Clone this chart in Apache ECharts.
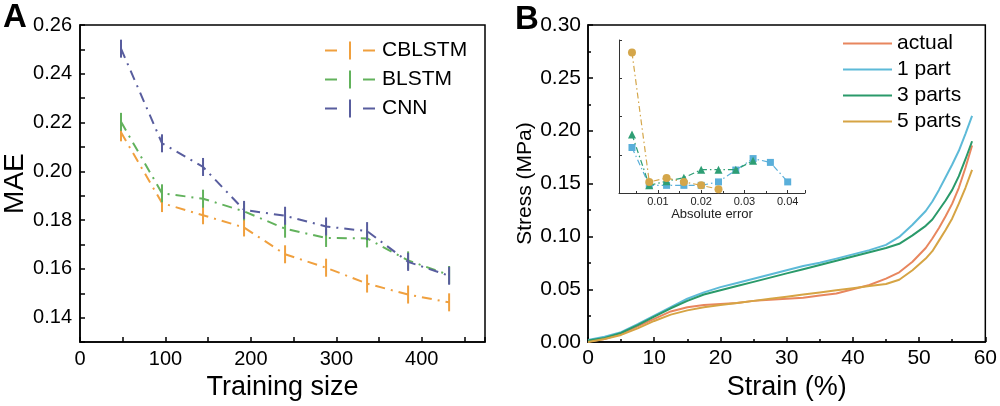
<!DOCTYPE html>
<html>
<head>
<meta charset="utf-8">
<script src="https://cdn.jsdelivr.net/npm/echarts@6/dist/echarts.min.js"></script>
<style>
html,body{margin:0;padding:0;background:#fff;}
#chart{width:1000px;height:406px;}
</style>
</head>
<body>
<div id="chart"></div>
<script>
// ---------- Panel A data ----------
const trainingSize = [48, 96, 144, 192, 240, 288, 336, 384, 432];
const maeCBLSTM = [0.216, 0.187, 0.182, 0.177, 0.166, 0.1605, 0.154, 0.1495, 0.1463];
const maeBLSTM  = [0.2203, 0.191, 0.1888, 0.1836, 0.1765, 0.1727, 0.1725, 0.1635, 0.1575];
const maeCNN    = [0.2503, 0.2115, 0.2018, 0.1842, 0.1818, 0.1774, 0.1755, 0.1629, 0.1572];
const namesA = ['CBLSTM', 'BLSTM', 'CNN'];

// ---------- Panel B data ----------
const strain = [0, 2.5, 5, 7.5, 10, 12.5, 15, 17.5, 20, 22.5, 25, 27.5, 30, 32.5, 35, 37.5, 40, 42.5, 45, 47, 49, 51, 52, 53, 54, 55, 56, 57, 58];
const stressActual = [0.0006, 0.003, 0.0078, 0.015, 0.022, 0.029, 0.033, 0.035, 0.036, 0.037, 0.039, 0.040, 0.041, 0.042, 0.044, 0.046, 0.050, 0.054, 0.060, 0.066, 0.076, 0.089, 0.098, 0.108, 0.119, 0.131, 0.146, 0.165, 0.186];
const stress1Part  = [0.002, 0.005, 0.0093, 0.017, 0.025, 0.033, 0.041, 0.047, 0.052, 0.056, 0.060, 0.064, 0.068, 0.072, 0.075, 0.079, 0.083, 0.087, 0.092, 0.0995, 0.111, 0.124, 0.133, 0.144, 0.156, 0.168, 0.181, 0.197, 0.214];
const stress3Parts = [0.0016, 0.004, 0.0087, 0.016, 0.024, 0.032, 0.039, 0.045, 0.049, 0.053, 0.057, 0.061, 0.065, 0.069, 0.073, 0.077, 0.081, 0.085, 0.089, 0.093, 0.101, 0.110, 0.116, 0.125, 0.134, 0.144, 0.157, 0.173, 0.190];
const stress5Parts = [0.0, 0.003, 0.0068, 0.013, 0.020, 0.026, 0.030, 0.033, 0.035, 0.037, 0.039, 0.041, 0.043, 0.045, 0.047, 0.049, 0.051, 0.053, 0.055, 0.059, 0.068, 0.079, 0.086, 0.096, 0.106, 0.117, 0.131, 0.146, 0.163];
const namesB = ['actual', '1 part', '3 parts', '5 parts'];

// ---------- Inset data ----------
const errSquares   = [0.004, 0.008, 0.012, 0.016, 0.020, 0.024, 0.028, 0.032, 0.036, 0.040];
const valSquares   = [1.19, 0.20, 0.20, 0.20, 0.20, 0.29, 0.60, 0.90, 0.80, 0.29];
const errTriangles = [0.004, 0.008, 0.012, 0.016, 0.020, 0.024, 0.028, 0.032];
const valTriangles = [1.53, 0.20, 0.31, 0.40, 0.61, 0.61, 0.61, 0.84];
const errCircles   = [0.004, 0.008, 0.012, 0.016, 0.020, 0.024];
const valCircles   = [3.675, 0.29, 0.39, 0.29, 0.20, 0.10];

const FONT = '"Liberation Sans", Arial, sans-serif';
const colA = ['#F0A03E', '#62B25C', '#585D9E'];
const colB = ['#E8865E', '#5DBAD8', '#2A9A6A', '#D6A444'];
const colInset = ['#5AAFDA', '#2E9E74', '#D4A64A'];

const zip = (xs, ys) => xs.map((x, i) => [x, ys[i]]);

const chart = echarts.init(document.getElementById('chart'), null, {renderer: 'canvas'});

const seriesA = [maeCBLSTM, maeBLSTM, maeCNN].map((arr, i) => ({
  name: namesA[i], type: 'line', xAxisIndex: 0, yAxisIndex: 0,
  data: zip(trainingSize, arr),
  symbol: 'rect', symbolSize: [2, 18], showSymbol: true,
  itemStyle: {color: colA[i]},
  lineStyle: {color: colA[i], width: 2, type: [10, 6, 2, 6]},
  emphasis: {disabled: true}, z: 2 + i
}));

const seriesB = [stressActual, stress1Part, stress3Parts, stress5Parts].map((arr, i) => ({
  name: namesB[i], type: 'line', xAxisIndex: 1, yAxisIndex: 1,
  data: zip(strain, arr), showSymbol: false, symbol: 'none',
  itemStyle: {color: colB[i]},
  lineStyle: {color: colB[i], width: 2},
  emphasis: {disabled: true}
}));

const insetDefs = [
  [errSquares, valSquares, 'rect', 7],
  [errTriangles, valTriangles, 'triangle', 8],
  [errCircles, valCircles, 'circle', 8]
];
const seriesInset = insetDefs.map((d, i) => ({
  type: 'line', xAxisIndex: 2, yAxisIndex: 2,
  data: zip(d[0], d[1]), symbol: d[2], symbolSize: d[3], showSymbol: true,
  itemStyle: {color: colInset[i]},
  lineStyle: {color: colInset[i], width: 1.2, type: [6, 3, 1.5, 3]},
  emphasis: {disabled: true}, z: 5 + i
}));

const tickStyle = {color: '#000', width: 1.5};

chart.setOption({
  animation: false,
  backgroundColor: '#fff',
  textStyle: {fontFamily: FONT},
  grid: [
    {left: 80, top: 25, width: 405, height: 326, show: true, borderColor: '#000', borderWidth: 1.5, backgroundColor: 'transparent'},
    {left: 588, top: 25, width: 400, height: 322, show: true, borderColor: '#000', borderWidth: 1.5, backgroundColor: 'transparent'},
    {left: 619, top: 40, width: 186, height: 153, show: false}
  ],
  xAxis: [
    {type: 'value', gridIndex: 0, min: 0, max: 474, interval: 50,
     name: 'Training size', nameLocation: 'middle', nameGap: 22,
     nameTextStyle: {fontSize: 27, color: '#000', fontFamily: FONT},
     axisLine: {lineStyle: {color: '#000', width: 1.5}},
     axisTick: {inside: true, length: 5, lineStyle: tickStyle},
     axisLabel: {fontSize: 20, color: '#000', margin: 7, fontFamily: FONT,
       formatter: v => (Math.round(v) % 100 === 0 && v < 470) ? String(Math.round(v)) : ''},
     splitLine: {show: false}},
    {type: 'value', gridIndex: 1, min: 0, max: 60, interval: 10,
     name: 'Strain (%)', nameLocation: 'middle', nameGap: 27,
     nameTextStyle: {fontSize: 27, color: '#000', fontFamily: FONT},
     axisLine: {lineStyle: {color: '#000', width: 1.5}},
     axisTick: {inside: true, length: 5, lineStyle: tickStyle},
     minorTick: {show: true, splitNumber: 2, length: 3, lineStyle: tickStyle},
     axisLabel: {fontSize: 21, color: '#000', margin: 6, fontFamily: FONT},
     splitLine: {show: false}},
    {type: 'value', gridIndex: 2, min: 0.001, max: 0.044, splitNumber: 4,
     name: 'Absolute error', nameLocation: 'middle', nameGap: 13,
     nameTextStyle: {fontSize: 13, color: '#222', fontFamily: FONT},
     axisLine: {lineStyle: {color: '#333', width: 1}},
     axisTick: {inside: true, length: 3, lineStyle: {color: '#333', width: 1}},
     minorTick: {show: true, splitNumber: 2, length: 2, lineStyle: {color: '#333', width: 1}},
     axisLabel: {fontSize: 11, color: '#222', margin: 3, fontFamily: FONT,
       formatter: v => (Math.abs(v * 100 - Math.round(v * 100)) < 1e-6 && v > 0.005 && v < 0.0435) ? v.toFixed(2) : ''},
     splitLine: {show: false}}
  ],
  yAxis: [
    {type: 'value', gridIndex: 0, min: 0.13, max: 0.26, interval: 0.01,
     name: 'MAE', nameLocation: 'middle', nameGap: 47,
     nameTextStyle: {fontSize: 28, color: '#000', fontFamily: FONT},
     axisLine: {lineStyle: {color: '#000', width: 1.5}},
     axisTick: {inside: true, length: 5, lineStyle: tickStyle},
     axisLabel: {fontSize: 20, color: '#000', margin: 8, fontFamily: FONT,
       formatter: v => { const k = Math.round(v * 100); return (k % 2 === 0) ? (k / 100).toFixed(2) : ''; }},
     splitLine: {show: false}},
    {type: 'value', gridIndex: 1, min: 0, max: 0.30, interval: 0.05,
     name: 'Stress (MPa)', nameLocation: 'middle', nameGap: 52,
     nameTextStyle: {fontSize: 21, color: '#000', fontFamily: FONT},
     axisLine: {lineStyle: {color: '#000', width: 1.5}},
     axisTick: {inside: true, length: 5, lineStyle: tickStyle},
     minorTick: {show: true, splitNumber: 2, length: 3, lineStyle: tickStyle},
     axisLabel: {fontSize: 21, color: '#000', margin: 7, fontFamily: FONT,
       formatter: v => v.toFixed(2)},
     splitLine: {show: false}},
    {type: 'value', gridIndex: 2, min: 0, max: 4, interval: 1,
     axisLine: {show: true, lineStyle: {color: '#333', width: 1}},
     axisTick: {inside: true, length: 3, lineStyle: {color: '#333', width: 1}},
     axisLabel: {show: false},
     splitLine: {show: false}}
  ],
  legend: [
    {data: namesA, left: 325, top: 40, orient: 'vertical', padding: 0,
     itemWidth: 50, itemHeight: 18, itemGap: 8,
     icon: 'path://M0,8h12v2h-12z M24,0h2v18h-2z M38,8h12v2h-12z',
     textStyle: {fontSize: 21, color: '#000', fontFamily: FONT, padding: [0, 0, 0, 2]},
     selectedMode: false},
    {data: namesB, left: 843, top: 33, orient: 'vertical', padding: 0,
     itemWidth: 49, itemHeight: 2, itemGap: 5, icon: 'rect',
     textStyle: {fontSize: 21, color: '#000', fontFamily: FONT, padding: [0, 0, 0, 0]},
     selectedMode: false}
  ],
  graphic: [
    {type: 'text', left: 3, top: 1, style: {text: 'A', font: 'bold 33px ' + FONT, fill: '#000'}},
    {type: 'text', left: 515, top: 3, style: {text: 'B', font: 'bold 33px ' + FONT, fill: '#000'}}
  ],
  series: [...seriesA, ...seriesB, ...seriesInset]
});
</script>
</body>
</html>
